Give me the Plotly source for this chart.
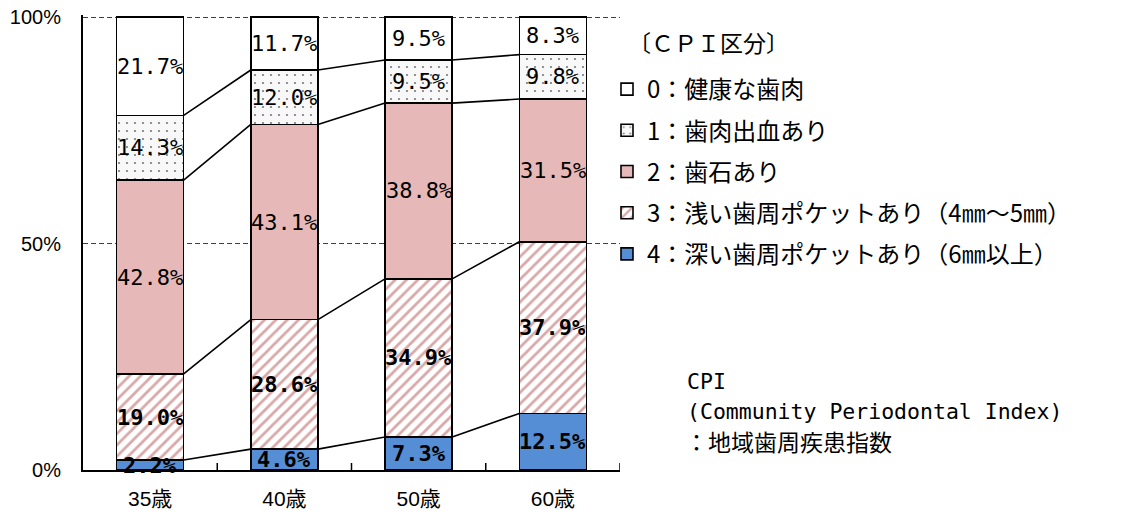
import plotly.graph_objects as go

# CPI distribution by age group (%)
categories = ["35歳", "40歳", "50歳", "60歳"]
cpi4 = [2.2, 4.6, 7.3, 12.5]      # 4: deep pocket (6mm+)
cpi3 = [19.0, 28.6, 34.9, 37.9]   # 3: shallow pocket (4-5mm)
cpi2 = [42.8, 43.1, 38.8, 31.5]   # 2: calculus
cpi1 = [14.3, 12.0, 9.5, 9.8]     # 1: bleeding
cpi0 = [21.7, 11.7, 9.5, 8.3]     # 0: healthy
series_names = [
    "4：深い歯周ポケットあり（6㎜以上）",
    "3：浅い歯周ポケットあり（4㎜～5㎜）",
    "2：歯石あり",
    "1：歯肉出血あり",
    "0：健康な歯肉",
]
y_ticks = [0, 50, 100]
y_tick_text = ["0%", "50%", "100%"]

W, H = 1133, 520
PL, PR, PT, PB = 83, 620, 15, 470   # plot area in pixels
Y_MAX = 100.45


def px_x(p):
    return (p - PL) / (PR - PL)


def px_y(p):
    return (PB - p) / (PB - PT)


x = list(range(len(categories)))
BAR_W = 0.5
LABEL_FONT = "DejaVu Sans Mono, Noto Sans CJK JP, monospace"
CJK_FONT = "Noto Sans CJK JP, sans-serif"
SANS = "Liberation Sans, Arial, Noto Sans CJK JP, sans-serif"

styles = [
    dict(color="#558ED5", pattern=None, bold=True),
    dict(color="#FFFFFF", pattern=dict(shape="/", fgcolor="#D9A8A8", bgcolor="#FFFFFF",
                                       size=8, solidity=0.35, fillmode="replace"), bold=True),
    dict(color="#E6B9B8", pattern=None, bold=False),
    dict(color="#F6F6F6", pattern=dict(shape=".", fgcolor="#7A7A7A", bgcolor="#F8F8F8",
                                       size=8, solidity=0.06, fillmode="replace"), bold=False),
    dict(color="#FFFFFF", pattern=None, bold=False),
]
values = [cpi4, cpi3, cpi2, cpi1, cpi0]

fig = go.Figure()
for i, (vals, name, st) in enumerate(zip(values, series_names, styles)):
    marker = dict(color=st["color"], line=dict(color="#000000", width=1.6))
    if st["pattern"]:
        marker["pattern"] = st["pattern"]
    fig.add_trace(go.Bar(
        x=x, y=vals, width=BAR_W, name=name, marker=marker,
        legendgroup=f"g{i}", legendrank=len(values) - i,
        hoverinfo="skip",
    ))

# value labels centred in each segment, and connector lines between bars
base = [0.0] * len(categories)
for k, (vals, st) in enumerate(zip(values, styles)):
    for j, v in enumerate(vals):
        txt = f"<b>{v:.1f}%</b>" if st["bold"] else f"{v:.1f}%"
        fig.add_annotation(x=x[j], y=base[j] + v / 2, xref="x", yref="y",
                           text=txt, showarrow=False,
                           font=dict(family=LABEL_FONT, size=22, color="#000000"))
    top = [b + v for b, v in zip(base, vals)]
    if k < len(values) - 1:
        for j in range(len(categories) - 1):
            fig.add_trace(go.Scatter(
                x=[x[j] + BAR_W / 2, x[j + 1] - BAR_W / 2], y=[top[j], top[j + 1]],
                mode="lines", line=dict(color="#000000", width=1.6),
                showlegend=False, hoverinfo="skip",
            ))
    base = top

# category boundary ticks on the x axis (drawn upward from the axis)
for b in [0.5, 1.5, 2.5, 3.5]:
    fig.add_shape(type="line", xref="x", yref="paper", x0=b, x1=b, y0=0, y1=7 / (PB - PT),
                  line=dict(color="#000000", width=1.5))

fig.update_layout(
    width=W, height=H,
    margin=dict(l=PL, r=W - PR, t=PT, b=H - PB, autoexpand=False),
    barmode="stack",
    paper_bgcolor="#FFFFFF", plot_bgcolor="#FFFFFF",
    font=dict(family=SANS, color="#000000"),
    showlegend=True,
    legend=dict(
        x=px_x(607), y=px_y(67), xanchor="left", yanchor="top",
        font=dict(family=CJK_FONT, size=24, color="#000000"),
        traceorder="grouped", tracegroupgap=7,
        bgcolor="rgba(0,0,0,0)",
    ),
    xaxis=dict(
        range=[-0.5, 3.5], tickmode="array", tickvals=x, ticktext=categories,
        ticks="", showgrid=False, zeroline=False,
        showline=True, linecolor="#000000", linewidth=2,
        tickfont=dict(size=21, family=SANS), ticklabelstandoff=9, automargin=False,
    ),
    yaxis=dict(
        range=[0, Y_MAX], tickmode="array", tickvals=y_ticks, ticktext=y_tick_text,
        ticks="", showgrid=True, gridcolor="#404040", gridwidth=1, griddash="5px,3px",
        zeroline=False, showline=True, linecolor="#000000", linewidth=2,
        tickfont=dict(size=20, family=SANS), ticklabelstandoff=16, automargin=False,
    ),
)

# legend heading and CPI note
notes = [
    ("〔ＣＰＩ区分〕", CJK_FONT, 23, 626, 42),
    ("CPI", LABEL_FONT, 21.5, 685, 381),
    ("(Community Periodontal Index)", LABEL_FONT, 21.5, 685, 411),
    ("：地域歯周疾患指数", CJK_FONT, 23, 683, 441),
]
for txt, fam, size, xp, yp in notes:
    fig.add_annotation(x=px_x(xp), y=px_y(yp), xref="paper", yref="paper",
                       text=txt, showarrow=False, xanchor="left", yanchor="middle",
                       font=dict(family=fam, size=size, color="#000000"))

fig.write_html("out.html")
